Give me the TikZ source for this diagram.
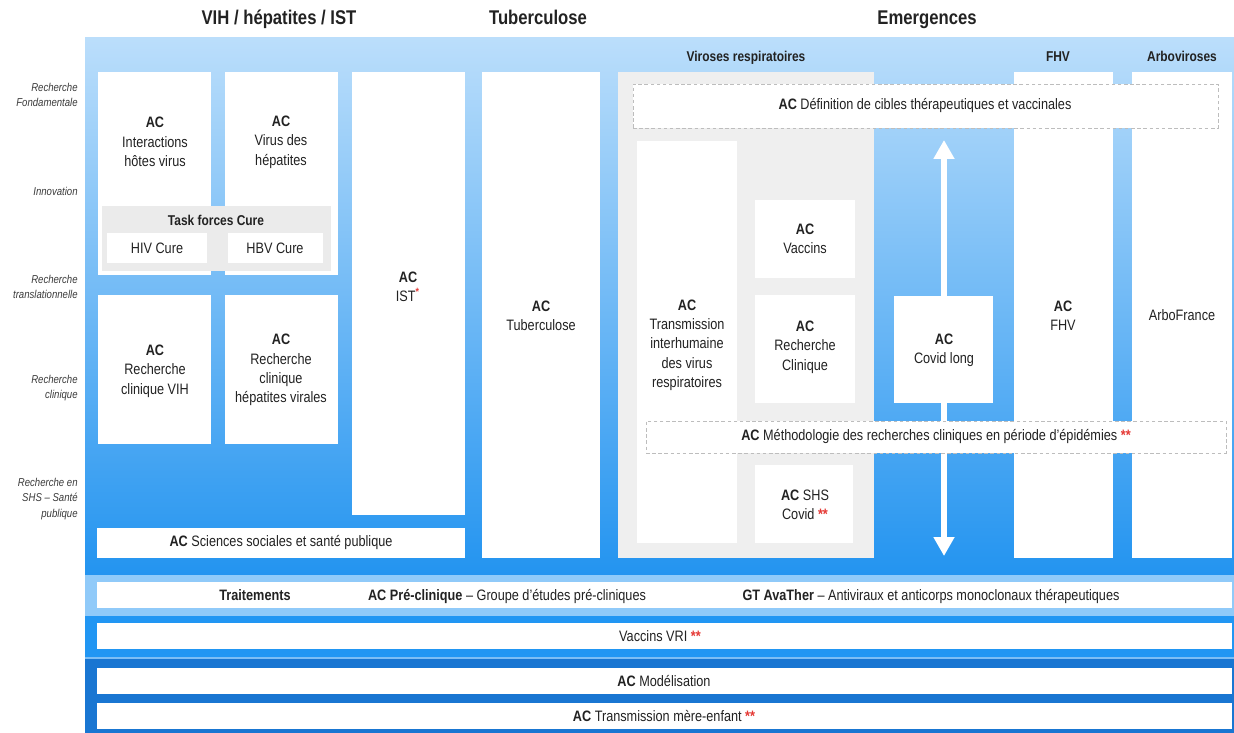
\documentclass[tikz,border=0pt]{standalone}
\usepackage{fontspec}
\setmainfont[FakeStretch=0.84]{Liberation Sans}
\usepackage{tikz}
\usetikzlibrary{fit}
\usetikzlibrary{arrows.meta}
\definecolor{bgTop}{HTML}{BBDEFB}
\definecolor{bgMid}{HTML}{8FC9F8}
\definecolor{bgBot}{HTML}{2394F0}
\definecolor{trtBand}{HTML}{90CAF9}
\definecolor{vacBand}{HTML}{2196F3}
\definecolor{modBand}{HTML}{1976D2}
\definecolor{sepLine}{HTML}{7DBEF5}
\definecolor{grayzone}{HTML}{EFEFEF}
\definecolor{taskgray}{HTML}{EBEBEB}
\definecolor{dashgray}{HTML}{BDBDBD}
\definecolor{ink}{HTML}{222222}
\definecolor{sidegray}{HTML}{3A3A3A}
\definecolor{starred}{HTML}{E53935}
\newcommand{\redstar}[1]{\textcolor{starred}{\textbf{#1}}}
\tikzset{
  panel/.style={inner sep=0pt,draw=none},
  wbox/.style={fill=white,inner sep=0pt,draw=none},
  gbox/.style={fill=grayzone,inner sep=0pt,draw=none},
  dbox/.style={fill=white,draw=dashgray,dash pattern=on 2pt off 1.5pt,line width=0.5pt,inner sep=0pt},
  txt/.style={align=center,font=\fontsize{8.6}{11}\selectfont,text=ink,inner sep=0pt},
  hdr/.style={anchor=base,font=\fontsize{11.3}{13}\selectfont\bfseries,text=ink,inner sep=0pt},
  sub/.style={font=\fontsize{8.1}{9}\selectfont\bfseries,text=ink,inner sep=0pt},
  side/.style={align=right,anchor=east,font=\fontsize{6.5}{9}\selectfont\itshape,text=sidegray,inner sep=0pt}
}
\begin{document}
\begin{tikzpicture}[x=0.02cm,y=-0.02cm]
  \useasboundingbox (0,0) rectangle (1234,733);
  % background panels
  \node[panel,fit={(85,38) (1234,575)},top color=bgTop,middle color=bgMid,bottom color=bgBot] (main) {};
  \node[panel,fit={(85,575) (1234,616)},fill=trtBand] (trtzone) {};
  \node[panel,fit={(85,616) (1234,657)},fill=vacBand] (vaczone) {};
  \node[panel,fit={(85,657) (1234,659)},fill=sepLine] (sepzone) {};
  \node[panel,fit={(85,659) (1234,733)},fill=modBand] (modzone) {};

  % headers
  \node[hdr] (hVIH) at (279,25) {VIH / hépatites / IST};
  \node[hdr] (hTB) at (538,25) {Tuberculose};
  \node[hdr] (hEM) at (927,25) {Emergences};
  \node[sub,anchor=base] (hVR) at (746,62) {Viroses respiratoires};
  \node[sub,anchor=base] (hFHV) at (1058,62) {FHV};
  \node[sub,anchor=base] (hARB) at (1182,62) {Arboviroses};

  % research levels
  \node[side] (lvFond) at (78,95) {Recherche\\Fondamentale};
  \node[side] (lvInno) at (78,191) {Innovation};
  \node[side] (lvTrans) at (78,287) {Recherche\\translationnelle};
  \node[side] (lvClin) at (78,388) {Recherche\\clinique};
  \node[side] (lvSHS) at (78,499) {Recherche en\\SHS -- Santé\\publique};

  % VIH / hepatites / IST
  \node[wbox,fit={(98,72) (211,275)}] (ihvBox) {};
  \node[txt] (ihv) at (155,142) {\textbf{AC}\\Interactions\\hôtes virus};
  \node[wbox,fit={(225,72) (338,275)}] (vhBox) {};
  \node[txt] (vh) at (281,142) {\textbf{AC}\\Virus des\\hépatites};
  \node[panel,fit={(102,206) (331,271)},fill=taskgray] (cureBox) {};
  \node[sub] (cure) at (216,220) {Task forces Cure};
  \node[wbox,fit={(107,233) (207,263)}] (hivBox) {};
  \node[txt] (hiv) at (157,248) {HIV Cure};
  \node[wbox,fit={(228,233) (323,263)}] (hbvBox) {};
  \node[txt] (hbv) at (275,248) {HBV Cure};
  \node[wbox,fit={(98,295) (211,444)}] (rcvBox) {};
  \node[txt] (rcv) at (155,371) {\textbf{AC}\\Recherche\\clinique VIH};
  \node[wbox,fit={(225,295) (338,444)}] (rchBox) {};
  \node[txt] (rch) at (281,370) {\textbf{AC}\\Recherche\\clinique\\hépatites virales};
  \node[wbox,fit={(352,72) (465,515)}] (istBox) {};
  \node[txt] (ist) at (408,287) {\textbf{AC}\\IST\textsuperscript{\redstar{*}}};
  \node[wbox,fit={(97,528) (465,558)}] (sspBox) {};
  \node[txt] (ssp) at (281,543) {\textbf{AC} Sciences sociales et santé publique};

  % Tuberculose
  \node[wbox,fit={(482,72) (600,558)}] (tbBox) {};
  \node[txt] (tb) at (541,316) {\textbf{AC}\\Tuberculose};

  % Emergences
  \node[gbox,fit={(618,72) (874,558)}] (vrZone) {};
  \node[wbox,fit={(1014,72) (1113,558)}] (fhvBox) {};
  \node[txt] (fhv) at (1063,316) {\textbf{AC}\\FHV};
  \node[wbox,fit={(1132,72) (1232,558)}] (arbBox) {};
  \node[txt] (arb) at (1182,315) {ArboFrance};
  \node[dbox,fit={(633,84) (1218,128)}] (cibBox) {};
  \node[txt] (cib) at (925,106) {\textbf{AC} Définition de cibles thérapeutiques et vaccinales};
  \node[wbox,fit={(637,141) (737,543)}] (trBox) {};
  \node[txt] (tr) at (687,345) {\textbf{AC}\\Transmission\\interhumaine\\des virus\\respiratoires};
  \node[wbox,fit={(755,200) (855,278)}] (vacBox) {};
  \node[txt] (vac) at (805,239) {\textbf{AC}\\Vaccins};
  \node[wbox,fit={(755,295) (855,403)}] (rcBox) {};
  \node[txt] (rc) at (805,347) {\textbf{AC}\\Recherche\\Clinique};
  \node[wbox,fit={(755,465) (853,543)}] (shsBox) {};
  \node[txt] (shs) at (805,505) {\textbf{AC} SHS\\Covid \redstar{**}};
  % Covid long and its arrow
  \coordinate (arrTop) at (944,140);
  \coordinate (arrBot) at (944,556);
  \draw[white,line width=6*0.02cm,{Triangle[width=20*0.02cm,length=19*0.02cm]}-{Triangle[width=20*0.02cm,length=19*0.02cm]}] (arrTop) -- (arrBot);
  \node[wbox,fit={(894,296) (993,403)}] (clBox) {};
  \node[txt] (cl) at (944,350) {\textbf{AC}\\Covid long};
  \node[dbox,fit={(646,421) (1226,453)}] (metBox) {};
  \node[txt] (met) at (936,437) {\textbf{AC} Méthodologie des recherches cliniques en période d'épidémies \redstar{**}};

  % transversal bands
  \node[wbox,fit={(97,582) (1232,608)}] (trtBox) {};
  \node[txt,anchor=base] (trt) at (255,600) {\textbf{Traitements}};
  \node[txt,anchor=base] (prec) at (507,600) {\textbf{AC Pré-clinique} -- Groupe d'études pré-cliniques};
  \node[txt,anchor=base] (ava) at (931,600) {\textbf{GT AvaTher} -- Antiviraux et anticorps monoclonaux thérapeutiques};
  \node[wbox,fit={(97,623) (1232,649)}] (vriBox) {};
  \node[txt] (vri) at (660,636) {Vaccins VRI \redstar{**}};
  \node[wbox,fit={(97,668) (1232,694)}] (modBox) {};
  \node[txt] (mod) at (664,681) {\textbf{AC} Modélisation};
  \node[wbox,fit={(97,703) (1232,729)}] (mereBox) {};
  \node[txt] (mere) at (664,716) {\textbf{AC} Transmission mère-enfant \redstar{**}};
\end{tikzpicture}
\end{document}
